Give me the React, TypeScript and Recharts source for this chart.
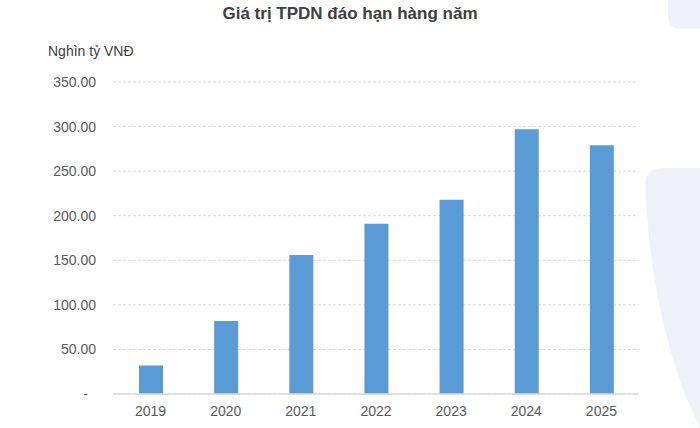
import { BarChart, Bar, XAxis, YAxis, CartesianGrid } from "recharts";

const years = ["2019", "2020", "2021", "2022", "2023", "2024", "2025"];
const maturing = [32, 82, 156, 191, 218, 297, 279];
const yTicks = [0, 50, 100, 150, 200, 250, 300, 350];

const data = years.map((year, i) => ({ year, value: maturing[i] }));

const FONT = "'Liberation Sans', Arial, sans-serif";

// Excel-style accounting format: zero shows as "-"
function YTick(props: any) {
  const { x, y, payload } = props;
  const v = payload.value as number;
  return (
    <text
      x={v === 0 ? x - 8 : x}
      y={y}
      dy="0.355em"
      textAnchor="end"
      fill="#595959"
      fontSize={14}
      fontFamily={FONT}
    >
      {v === 0 ? "-" : v.toFixed(2)}
    </text>
  );
}

export default function App() {
  return (
    <div
      style={{
        position: "absolute",
        left: 0,
        top: 0,
        width: 700,
        height: 428,
        background: "#ffffff",
        overflow: "hidden",
        fontFamily: FONT,
      }}
    >
      {/* soft background shapes on the right */}
      <svg width={700} height={428} style={{ position: "absolute", left: 0, top: 0 }}>
        <path d="M668 0 H700 V29 H682 Q668 29 668 15 Z" fill="#eef1f8" />
        <path d="M645 186 Q645 168 663 168 H700 V428 Q652 330 645 186 Z" fill="#eef1f8" />
      </svg>

      <div
        style={{
          position: "absolute",
          left: 0,
          top: 4,
          width: 700,
          textAlign: "center",
          fontSize: 17,
          fontWeight: "bold",
          color: "#404040",
        }}
      >
        Giá trị TPDN đáo hạn hàng năm
      </div>

      <div
        style={{
          position: "absolute",
          left: 48,
          top: 43,
          fontSize: 14,
          color: "#404040",
        }}
      >
        Nghìn tỷ VNĐ
      </div>

      <div style={{ position: "absolute", left: 0, top: 0 }}>
        <BarChart
          width={700}
          height={428}
          data={data}
          margin={{ top: 82, right: 61, bottom: 0, left: 0 }}
        >
          <CartesianGrid
            vertical={false}
            stroke="#d9d9d9"
            strokeDasharray="3 2"
          />
          <XAxis
            dataKey="year"
            height={34}
            tickLine={false}
            tickMargin={6}
            axisLine={{ stroke: "#d9d9d9", strokeWidth: 1.5 }}
            tick={{ fill: "#595959", fontSize: 14, fontFamily: FONT }}
          />
          <YAxis
            width={113}
            domain={[0, 350]}
            ticks={yTicks}
            axisLine={false}
            tickLine={false}
            tickMargin={11}
            tick={<YTick />}
          />
          <Bar
            dataKey="value"
            fill="#5b9bd5"
            barSize={24}
            isAnimationActive={false}
          />
        </BarChart>
      </div>
    </div>
  );
}
